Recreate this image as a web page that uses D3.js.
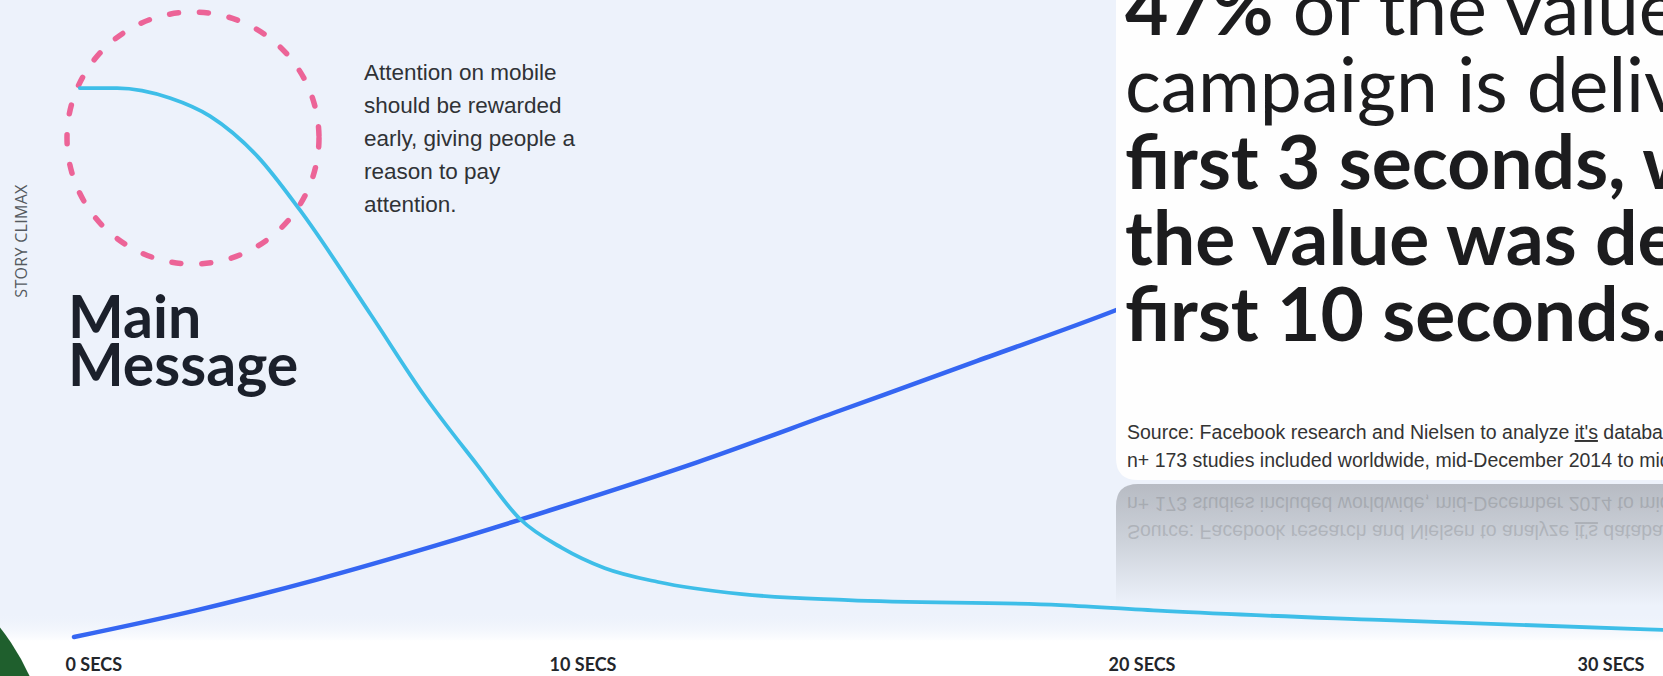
<!DOCTYPE html>
<html>
<head>
<meta charset="utf-8">
<script src="https://cdn.jsdelivr.net/npm/d3@7/dist/d3.min.js"></script>
<style>
  html, body { margin: 0; padding: 0; background: #ffffff; overflow: hidden; }
  svg { display: block; }
</style>
</head>
<body>
<svg id="chart" width="1663" height="676"></svg>
<script>
// ---------------- DATA ----------------
const tickSeconds = [0, 10, 20, 30];
const tickLabels = ["0 SECS", "10 SECS", "20 SECS", "30 SECS"];

// Attention curve (light blue) – seconds and relative level (0-100)
const attentionSecs   = [0.12, 0.89, 1.98, 2.81, 3.8, 4.67, 6.14, 7.23, 8.33, 9.21, 10.07, 10.84, 11.79, 13.29, 15.19, 18.99, 21.07, 25.59, 31.64];
const attentionValues = [99.8, 99.8, 98.0, 94.7, 87.3, 77.6, 58.5, 44.0, 31.3, 21.5, 16.2, 12.5, 10.0, 7.8, 6.7, 5.8, 4.7, 3.1, 1.3];

// Story / value curve (dark blue)
const storySecs   = [0, 2.5, 5, 7.5, 10, 12.5, 15, 17.5, 20, 25, 32];
const storyValues = [0, 4.8, 10.4, 16.7, 23.5, 31.8, 41, 50.2, 59.5, 78, 100];

const yAxisLabel = "STORY CLIMAX";
const headlineLines = ["Main", "Message"];
const noteLines = ["Attention on mobile", "should be rewarded", "early, giving people a", "reason to pay", "attention."];
const cardLines = [
  [{t: "47%", b: true}, {t: " of the value in a video", b: false}],
  [{t: "campaign is delivered in the", b: false}],
  [{t: "first 3 seconds, while 74% of", b: true}],
  [{t: "the value was delivered in the", b: true}],
  [{t: "first 10 seconds.", b: true}]
];
const sourceLines = [
  [{t: "Source: Facebook research and Nielsen to analyze ", u: false}, {t: "it's", u: true}, {t: " database", u: false}],
  [{t: "n+ 173 studies included worldwide, mid-December 2014 to mid-March 2015", u: false}]
];

// ---------------- SETUP ----------------
const W = 1663, H = 676;
const svg = d3.select("#chart");
const defs = svg.append("defs");

const x = d3.scaleLinear().domain(tickSeconds).range([74, 558, 1117, 1586]);
const y = d3.scaleLinear().domain([0, 100]).range([637, 87]);

const PANEL = "#edf2fb";

// background panel
svg.append("rect").attr("x", 0).attr("y", 0).attr("width", W).attr("height", 640).attr("fill", PANEL);
const fade = defs.append("linearGradient").attr("id", "fade").attr("x1", 0).attr("x2", 0).attr("y1", 0).attr("y2", 1);
fade.append("stop").attr("offset", 0).attr("stop-color", PANEL).attr("stop-opacity", 0);
fade.append("stop").attr("offset", 1).attr("stop-color", "#ffffff").attr("stop-opacity", 1);
svg.append("rect").attr("x", 0).attr("y", 612).attr("width", W).attr("height", 30).attr("fill", "url(#fade)");

// green corner shape
svg.append("circle").attr("cx", -181).attr("cy", 771).attr("r", 231).attr("fill", "#1f5f2d");

// pink dashed circle
svg.append("circle").attr("cx", 193).attr("cy", 138).attr("r", 126)
  .attr("fill", "none").attr("stroke", "#ec6497").attr("stroke-width", 5.5)
  .attr("stroke-dasharray", "9 21").attr("stroke-linecap", "round");

// lines
const line = d3.line().x(d => x(d[0])).y(d => y(d[1])).curve(d3.curveMonotoneX);
svg.append("path").datum(storySecs.map((s, i) => [s, storyValues[i]]))
  .attr("d", line).attr("fill", "none").attr("stroke", "#3566f2").attr("stroke-width", 4.5).attr("stroke-linecap", "round");
svg.append("path").datum(attentionSecs.map((s, i) => [s, attentionValues[i]]))
  .attr("d", line).attr("fill", "none").attr("stroke", "#3ebee8").attr("stroke-width", 3.8).attr("stroke-linecap", "round");

// card
const cardX = 1116, cardBottom = 480, r = 22;
svg.append("path")
  .attr("d", `M${cardX},-20 L${cardX},${cardBottom - r} Q${cardX},${cardBottom} ${cardX + r},${cardBottom} L${W + 20},${cardBottom} L${W + 20},-20 Z`)
  .attr("fill", "#fefefe");

// reflection
const reflTop = 484, reflBottom = 606;
const rg = defs.append("linearGradient").attr("id", "refl").attr("x1", 0).attr("x2", 0).attr("y1", 0).attr("y2", 1);
rg.append("stop").attr("offset", 0).attr("stop-color", "#b7bbc3");
rg.append("stop").attr("offset", 0.45).attr("stop-color", "#ccd1d9");
rg.append("stop").attr("offset", 1).attr("stop-color", PANEL);
defs.append("clipPath").attr("id", "reflClip").append("path")
  .attr("d", `M${cardX},${reflBottom} L${cardX},${reflTop + r} Q${cardX},${reflTop} ${cardX + r},${reflTop} L${W + 20},${reflTop} L${W + 20},${reflBottom} Z`);
const refl = svg.append("g").attr("clip-path", "url(#reflClip)");
refl.append("rect").attr("x", cardX).attr("y", reflTop).attr("width", W - cardX + 20).attr("height", reflBottom - reflTop).attr("fill", "url(#refl)");

// card text
const cardBase = [35, 112, 189, 265, 341];
const cardText = svg.append("g").attr("font-family", "Lato, 'Open Sans', sans-serif").attr("font-size", 75).attr("fill", "#1c1c1e");
cardLines.forEach((parts, i) => {
  const t = cardText.append("text").attr("x", 1125).attr("y", cardBase[i]);
  parts.forEach(p => t.append("tspan").attr("font-weight", p.b ? 700 : 400).text(p.t));
});

function drawSource(g, color) {
  const src = g.append("g").attr("font-family", "'Liberation Sans', Arial, sans-serif").attr("font-size", 19.5).attr("fill", color);
  [439, 467].forEach((by, i) => {
    const t = src.append("text").attr("x", 1127).attr("y", by);
    sourceLines[i].forEach(p => t.append("tspan").attr("text-decoration", p.u ? "underline" : null).text(p.t));
  });
  return src;
}
drawSource(svg, "#333333");
const axisY = 482;
const mirrored = refl.append("g").attr("transform", `translate(0,${2 * axisY}) scale(1,-1)`).attr("opacity", 0.15);
drawSource(mirrored, "#222222");

// y axis label
svg.append("text").attr("transform", "translate(27,241) rotate(-90)")
  .attr("text-anchor", "middle").attr("font-family", "'Open Sans', sans-serif").attr("font-size", 16)
  .attr("fill", "#555a60").attr("letter-spacing", 0.3).text(yAxisLabel);

// headline
const head = svg.append("g").attr("font-family", "Lato, sans-serif").attr("font-weight", 700).attr("font-size", 59).attr("fill", "#1b202b");
headlineLines.forEach((s, i) => head.append("text").attr("x", 68).attr("y", [338, 386][i]).text(s));

// note
const note = svg.append("g").attr("font-family", "'Liberation Sans', Arial, sans-serif").attr("font-size", 22.5).attr("fill", "#303236");
noteLines.forEach((s, i) => note.append("text").attr("x", 364).attr("y", 80 + i * 33).text(s));

// x axis
const xAxis = d3.axisBottom(x).tickValues(tickSeconds).tickFormat((d, i) => tickLabels[i]).tickSize(0).tickPadding(18);
const ax = svg.append("g").attr("transform", "translate(0,640)").call(xAxis);
ax.select(".domain").remove();
ax.selectAll("text").attr("text-anchor", "start").attr("dx", -9)
  .attr("font-family", "Lato, sans-serif").attr("font-weight", 700).attr("font-size", 18).attr("fill", "#23262b");
</script>
</body>
</html>
